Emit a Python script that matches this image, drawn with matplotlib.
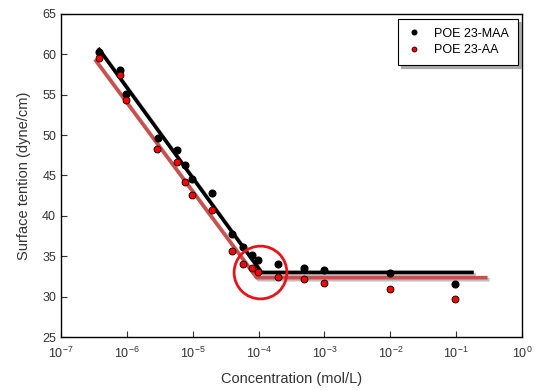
import numpy as np
import matplotlib
matplotlib.use("Agg")
import matplotlib.pyplot as plt
import matplotlib.patheffects as pe

plt.rcParams['font.family'] = ['Liberation Sans', 'DejaVu Sans']

# POE 23-MAA (black)
maa_logc = [-6.42, -6.10, -6.01, -5.53, -5.235, -5.11, -5.01, -4.71, -4.41, -4.24, -4.105, -4.005, -3.71, -3.31, -3.0, -2.0, -1.01]
maa_st = [60.3, 58.1, 55.1, 49.6, 48.2, 46.3, 44.6, 42.8, 37.8, 36.1, 35.2, 34.5, 34.0, 33.5, 33.3, 32.9, 31.6]
# POE 23-AA (red)
aa_logc = [-6.42, -6.10, -6.01, -5.54, -5.235, -5.11, -5.01, -4.71, -4.41, -4.24, -4.105, -4.005, -3.71, -3.31, -3.0, -2.0, -1.01]
aa_st = [59.5, 57.4, 54.4, 48.3, 46.7, 44.2, 42.6, 40.7, 35.7, 34.0, 33.6, 33.1, 32.4, 32.2, 31.7, 30.9, 29.7]

# Fit lines (log10 concentration, surface tension)
maa_fit_logc = [-6.42, -3.955, -0.76]
maa_fit_st = [60.6, 33.0, 33.0]
aa_fit_logc = [-6.47, -4.03, -0.55]
aa_fit_st = [59.2, 32.35, 32.35]

# CMC highlight circle
cmc_logc = -3.985
cmc_st = 33.0

xticks_log = [-7, -6, -5, -4, -3, -2, -1, 0]
yticks = [25, 30, 35, 40, 45, 50, 55, 60, 65]

fig = plt.figure(figsize=(5.38, 3.90), dpi=100)
ax = fig.add_axes([61/538, 1 - 337/390, (522-61)/538, (337-14)/390])

shadow = [pe.SimpleLineShadow(offset=(1.5, -1.5), shadow_color='gray', alpha=0.5), pe.Normal()]
ax.plot(10**np.array(maa_fit_logc), maa_fit_st, color='black', lw=2.6, path_effects=shadow, zorder=2)
ax.plot(10**np.array(aa_fit_logc), aa_fit_st, color='#c9504c', lw=2.6, path_effects=shadow, zorder=2)

ax.plot(10**np.array(maa_logc), maa_st, 'o', color='black', mec='black', ms=5, mew=0.8, label='POE 23-MAA', zorder=3)
ax.plot(10**np.array(aa_logc), aa_st, 'o', color='red', mec='black', ms=5, mew=0.6, label='POE 23-AA', zorder=3)

ax.plot([10**cmc_logc], [cmc_st], 'o', mfc='none', mec='#e8141a', ms=38, mew=2.0, zorder=4)

ax.set_xscale('log')
ax.set_xlim(1e-7, 1)
ax.set_ylim(25, 65)
ax.set_xticks([10.0**k for k in xticks_log])
ax.set_xticklabels([r'$\mathregular{10^{%d}}$' % k for k in xticks_log])
ax.xaxis.set_minor_locator(matplotlib.ticker.NullLocator())
ax.set_yticks(yticks)
ax.tick_params(direction='in', length=4, width=0.8, labelsize=9, colors='#333333')
ax.tick_params(axis='x', pad=6)
for s in ax.spines.values():
    s.set_linewidth(1.0)
    s.set_color('black')

ax.set_xlabel('Concentration (mol/L)', fontsize=10.5, color='#333333', labelpad=8)
ax.set_ylabel('Surface tention (dyne/cm)', fontsize=10.5, color='#333333', labelpad=8)

leg = ax.legend(loc='upper right', bbox_to_anchor=(518/538, 1 - 19/390), bbox_transform=fig.transFigure,
                borderaxespad=0, fontsize=9, frameon=True, fancybox=False,
                shadow={'color': '#999999', 'alpha': 0.8}, markerscale=0.7,
                handlelength=1.2, borderpad=0.7, labelspacing=0.35, handletextpad=1.0)
leg.get_frame().set_edgecolor('black')
leg.get_frame().set_linewidth(0.8)

fig.savefig('out.png', dpi=100)
